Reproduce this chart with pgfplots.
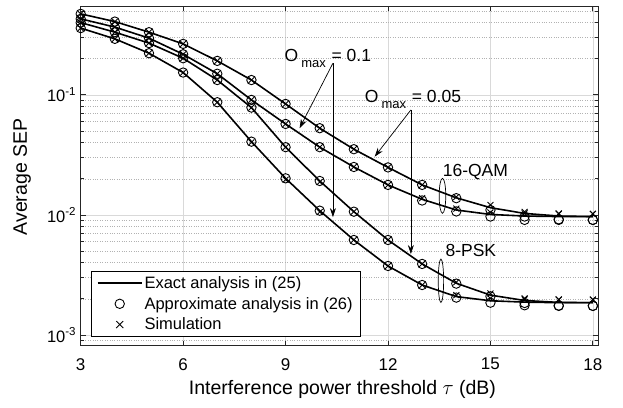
\documentclass[border=0pt]{standalone}
\usepackage{fontspec}
\setmainfont{Liberation Sans}
\usepackage{pgfplots}
\pgfplotsset{compat=1.18}
\usepackage{pgfplotstable}
\usetikzlibrary{arrows.meta}

% 16-QAM, O_max = 0.05
\pgfplotstableread{
x ex ap sim
3 0.473 0.473 0.473
4 0.408 0.408 0.408
5 0.333 0.333 0.333
6 0.266 0.266 0.266
7 0.192 0.192 0.192
8 0.133 0.133 0.133
9 0.0841 0.0841 0.0841
10 0.0528 0.0528 0.0528
11 0.0353 0.0353 0.0353
12 0.0249 0.0249 0.0249
13 0.0178 0.0178 0.0178
14 0.0139 0.0138 0.0141
15 0.0115 0.0110 0.0121
16 0.0103 0.0097 0.0106
17 0.0098 0.0092 0.0103
18 0.0097 0.0091 0.0102
}\qamA
% 16-QAM, O_max = 0.1
\pgfplotstableread{
x ex ap sim
3 0.430 0.430 0.430
4 0.367 0.367 0.367
5 0.297 0.297 0.297
6 0.218 0.218 0.218
7 0.150 0.150 0.150
8 0.0908 0.0908 0.0908
9 0.0573 0.0573 0.0573
10 0.0367 0.0367 0.0367
11 0.0251 0.0251 0.0251
12 0.0178 0.0178 0.0178
13 0.0135 0.0132 0.0138
14 0.0110 0.0107 0.0113
15 0.0101 0.0097 0.0105
16 0.0098 0.0091 0.0103
17 0.0097 0.0091 0.0102
18 0.0097 0.0091 0.0102
}\qamB
% 8-PSK, O_max = 0.05
\pgfplotstableread{
x ex ap sim
3 0.400 0.400 0.400
4 0.333 0.333 0.333
5 0.270 0.270 0.270
6 0.202 0.202 0.202
7 0.133 0.133 0.133
8 0.0784 0.0784 0.0784
9 0.0367 0.0367 0.0367
10 0.0192 0.0192 0.0188
11 0.01065 0.01065 0.01065
12 0.00619 0.00619 0.00619
13 0.00391 0.00391 0.00391
14 0.00270 0.00268 0.00275
15 0.00215 0.00210 0.00222
16 0.00194 0.00185 0.00202
17 0.00187 0.00176 0.00198
18 0.00186 0.00175 0.00197
}\pskA
% 8-PSK, O_max = 0.1
\pgfplotstableread{
x ex ap sim
3 0.360 0.360 0.360
4 0.293 0.293 0.293
5 0.2225 0.2225 0.2225
6 0.1535 0.1535 0.1535
7 0.0869 0.0869 0.0869
8 0.0408 0.0408 0.0402
9 0.0202 0.0202 0.0197
10 0.01086 0.01086 0.01060
11 0.00619 0.00619 0.00619
12 0.00376 0.00376 0.00376
13 0.00261 0.00261 0.00261
14 0.00209 0.00205 0.00215
15 0.00193 0.00186 0.00202
16 0.00188 0.00177 0.00198
17 0.00186 0.00175 0.00197
18 0.00186 0.00175 0.00197
}\pskB

\pgfplotsset{
  exact/.style={black, line width=1.6pt, forget plot},
  approx/.style={black, only marks, mark=o, mark size=4.7pt, line width=0.9pt, forget plot},
  simul/.style={black, only marks, mark=x, mark size=4.2pt, line width=0.9pt, forget plot},
}

\begin{document}
\begin{tikzpicture}
\path[use as bounding box] (-80.7pt,-61.3pt) rectangle (542.3pt,345.7pt);
\begin{axis}[
  scale only axis, width=517.3pt, height=339.7pt,
  at={(0pt,0pt)}, anchor=south west,
  ymode=log, xmin=3, xmax=18.15, ymin=8.15e-4, ymax=0.55,
  xtick={3,6,9,12,15,18},
  ytick={1e-3,1e-2,1e-1},
  yticklabels={10\textsuperscript{-3},10\textsuperscript{-2},10\textsuperscript{-1}},
  minor ytick={9e-4,2e-3,3e-3,4e-3,5e-3,6e-3,7e-3,8e-3,9e-3,2e-2,3e-2,4e-2,5e-2,6e-2,7e-2,8e-2,9e-2,2e-1,3e-1,4e-1,5e-1},
  /pgf/number format/assume math mode=true,
  xticklabel style={font=\fontsize{17}{17}\selectfont, yshift=-9pt},
  yticklabel style={font=\fontsize{16.5}{17}\selectfont, xshift=-1pt},
  grid=both,
  major grid style={color=black!15, line width=0.6pt},
  minor grid style={color=black!30, dotted, line width=0.6pt},
  axis line style={color=black!85, line width=0.8pt},
  every tick/.style={color=black!85, line width=0.8pt},
  major tick length=5pt, minor tick length=3pt,
  xtick pos=both, ytick pos=both,
  xlabel={Interference power threshold $\tau$ (dB)},
  ylabel={Average SEP},
  xlabel style={font=\fontsize{19.5}{20}\selectfont, anchor=center, at={(axis description cs:0.506,-0.13)}},
  ylabel style={font=\fontsize{19.5}{20}\selectfont, anchor=center, at={(axis description cs:-0.1135,0.4966)}},
  legend style={at={(axis description cs:0.019,0.0265)}, anchor=south west,
    font=\fontsize{16.5}{17.5}\selectfont, draw=black, line width=0.8pt,
    inner xsep=6pt, inner ysep=3pt, row sep=3.3pt},
  legend cell align=left,
]
\addlegendimage{legend image code/.code={\draw[black, line width=1.6pt] (0pt,0pt) -- (44pt,0pt);}}
\addlegendentry{Exact analysis in (25)}
\addlegendimage{legend image code/.code={\draw[black, line width=0.9pt] (22pt,0pt) circle[radius=4.7pt];}}
\addlegendentry{Approximate analysis in (26)}
\addlegendimage{legend image code/.code={\draw[black, line width=0.9pt] (18.5pt,-3.5pt) -- (25.5pt,3.5pt) (18.5pt,3.5pt) -- (25.5pt,-3.5pt);}}
\addlegendentry{Simulation}

\addplot[exact] table[x=x, y=ex] {\qamA};
\addplot[approx] table[x=x, y=ap] {\qamA};
\addplot[simul] table[x=x, y=sim] {\qamA};
\addplot[exact] table[x=x, y=ex] {\qamB};
\addplot[approx] table[x=x, y=ap] {\qamB};
\addplot[simul] table[x=x, y=sim] {\qamB};
\addplot[exact] table[x=x, y=ex] {\pskA};
\addplot[approx] table[x=x, y=ap] {\pskA};
\addplot[simul] table[x=x, y=sim] {\pskA};
\addplot[exact] table[x=x, y=ex] {\pskB};
\addplot[approx] table[x=x, y=ap] {\pskB};
\addplot[simul] table[x=x, y=sim] {\pskB};

\draw[-{Stealth[length=9pt,width=6pt]}, line width=0.7pt] (axis cs:10.387,0.1837) -- (axis cs:9.41,0.0528);
\draw[-{Stealth[length=9pt,width=6pt]}, line width=0.7pt] (axis cs:10.387,0.1837) -- (axis cs:10.387,0.0096);
\draw[-{Stealth[length=9pt,width=6pt]}, line width=0.7pt] (axis cs:12.67,0.075) -- (axis cs:11.61,0.0306);
\draw[-{Stealth[length=9pt,width=6pt]}, line width=0.7pt] (axis cs:12.67,0.075) -- (axis cs:12.67,0.00473);

\node[anchor=base west, inner sep=0pt, font=\fontsize{17.5}{18}\selectfont] at (axis cs:8.97,0.188) {O\,\raisebox{-6pt}{\fontsize{13}{13}\selectfont max}\,\,= 0.1};
\node[anchor=base west, inner sep=0pt, font=\fontsize{17.5}{18}\selectfont] at (axis cs:11.32,0.0858) {O\,\raisebox{-6pt}{\fontsize{13}{13}\selectfont max}\,\,= 0.05};
\node[anchor=base west, inner sep=0pt, font=\fontsize{17.5}{18}\selectfont] at (axis cs:13.6,0.0211) {16-QAM};
\node[anchor=base west, inner sep=0pt, font=\fontsize{17.5}{18}\selectfont] at (axis cs:13.68,0.00447) {8-PSK};

\draw[line width=0.7pt] (axis cs:13.595,0.01445) ellipse [x radius=3.3pt, y radius=17.5pt];
\draw[line width=0.7pt] (axis cs:13.55,0.00283) ellipse [x radius=2.7pt, y radius=21.7pt];
\end{axis}
\end{tikzpicture}
\end{document}
